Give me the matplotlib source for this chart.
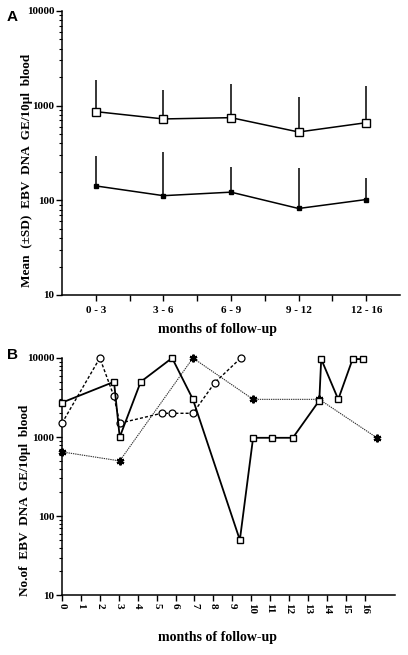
import matplotlib
matplotlib.use('Agg')
import matplotlib.pyplot as plt
import numpy as np
from matplotlib.ticker import LogLocator, FixedLocator, NullFormatter, FixedFormatter

plt.rcParams['font.family'] = ['Liberation Serif', 'DejaVu Serif']
plt.rcParams['font.weight'] = 'bold'

# ---- Panel A data ----
categories = ['0 - 3', '3 - 6', '6 - 9', '9 - 12', '12 - 16']
open_mean = [865, 724, 747, 527, 661]
open_sd_top = [1867, 1475, 1694, 1245, 1614]
filled_mean = [142, 112, 122, 82, 102]
filled_sd_top = [294, 321, 223, 219, 171]

# ---- Panel B data ----
sq_months = [0, 2.75, 3.05, 4.16, 5.82, 6.92, 9.4, 10.1, 11.1, 12.2, 13.6, 13.7, 14.6, 15.36, 15.9]
sq_values = [2730, 5000, 1000, 5000, 10000, 3000, 50, 980, 980, 980, 2900, 9700, 3000, 9700, 9700]
ci_months = [0, 2.0, 2.74, 3.05, 5.26, 5.82, 6.92, 8.08, 9.45]
ci_values = [1500, 10000, 3300, 1500, 2000, 2000, 2000, 4900, 10000]
st_months = [0, 3.05, 6.92, 10.1, 13.6, 16.67]
st_values = [650, 500, 10000, 3000, 3000, 970]
month_ticks = list(range(17))
yticks = [10, 100, 1000, 10000]
ytick_labels = ['10', '100', '1000', '10000']

W, H = 408, 655
fig = plt.figure(figsize=(W / 100, H / 100), dpi=100)


def style_log_axis(ax):
    ax.set_yscale('log')
    ax.set_ylim(10, 10000)
    ax.yaxis.set_major_locator(FixedLocator(yticks))
    ax.yaxis.set_major_formatter(FixedFormatter(ytick_labels))
    ax.yaxis.set_minor_locator(LogLocator(base=10, subs=np.arange(2, 10)))
    ax.yaxis.set_minor_formatter(NullFormatter())
    ax.tick_params(axis='y', which='major', direction='out', length=4, width=1,
                   pad=1.5, labelsize=8)
    ax.tick_params(axis='y', which='minor', direction='out', length=2, width=0.8)
    for s in ['top', 'right']:
        ax.spines[s].set_visible(False)
    for s in ['left', 'bottom']:
        ax.spines[s].set_linewidth(1.1)
    for lab in ax.get_yticklabels():
        lab.set_fontweight('bold')


# ---- Panel A ----
axA = fig.add_axes([62 / W, 1 - 295 / H, 338 / W, 284 / H])
style_log_axis(axA)
xa = np.arange(len(categories))
axA.set_xlim(-0.5, 4.5)
open_err = [np.zeros(len(xa)), np.array(open_sd_top) - np.array(open_mean)]
filled_err = [np.zeros(len(xa)), np.array(filled_sd_top) - np.array(filled_mean)]
axA.errorbar(xa, open_mean, yerr=open_err, fmt='none', ecolor='black',
             elinewidth=1.1, capsize=0, zorder=2)
axA.errorbar(xa, filled_mean, yerr=filled_err, fmt='none', ecolor='black',
             elinewidth=1.1, capsize=0, zorder=2)
axA.plot(xa, open_mean, '-', color='black', lw=1.1, marker='s', ms=5.5,
         mfc='white', mec='black', mew=1.0, zorder=3)
axA.plot(xa, filled_mean, '-', color='black', lw=1.1, marker='s', ms=3.5,
         mfc='black', mec='black', zorder=3)
axA.set_xticks(xa)
axA.set_xticklabels(categories, fontsize=8, fontweight='bold')
axA.set_xticks([0.5, 1.5, 2.5, 3.5], minor=True)
axA.tick_params(axis='x', which='both', direction='out', length=4, width=1, pad=4)

fig.text(218 / W, 1 - 329 / H, 'months of follow-up', ha='center', va='center',
         fontsize=10, fontweight='bold')
fig.text(27 / W, 1 - 170 / H, 'Mean  (\u00b1SD)  EBV  DNA  GE/10\u00b5l  blood',
         rotation=90, ha='center', va='center', fontsize=9.5, fontweight='bold')
fig.text(12 / W, 1 - 17 / H, 'A', ha='center', va='center', fontsize=11,
         fontweight='bold', family=['Liberation Sans', 'DejaVu Sans'])

# ---- Panel B ----
axB = fig.add_axes([62 / W, 1 - 595.3 / H, 333 / W, 237.3 / H])
style_log_axis(axB)
axB.set_xlim(0, 17.6)
axB.plot(st_months, st_values, color='#333333', lw=0.8, ls=(0, (1.2, 0.8)),
         marker=(6, 2, 0), ms=5.5, mec='black', mew=1.6, clip_on=False, zorder=2)
axB.plot(ci_months, ci_values, color='black', lw=1.0, ls=(0, (2.2, 1.5)),
         marker='o', ms=5, mfc='white', mec='black', mew=0.9, clip_on=False, zorder=3)
axB.plot(sq_months, sq_values, '-', color='black', lw=1.3, marker='s', ms=5,
         mfc='white', mec='black', mew=1.0, clip_on=False, zorder=4)
axB.set_xticks(month_ticks)
axB.set_xticklabels([str(m) for m in month_ticks], rotation=270, fontsize=8,
                    fontweight='bold')
axB.tick_params(axis='x', which='both', direction='out', length=4, width=1, pad=1.5)

fig.text(218 / W, 1 - 637 / H, 'months of follow-up', ha='center', va='center',
         fontsize=10, fontweight='bold')
fig.text(25 / W, 1 - 500 / H, 'No.of  EBV  DNA  GE/10\u00b5l  blood',
         rotation=90, ha='center', va='center', fontsize=9.5, fontweight='bold')
fig.text(12 / W, 1 - 355 / H, 'B', ha='center', va='center', fontsize=11,
         fontweight='bold', family=['Liberation Sans', 'DejaVu Sans'])

fig.savefig('out.png', dpi=100)
